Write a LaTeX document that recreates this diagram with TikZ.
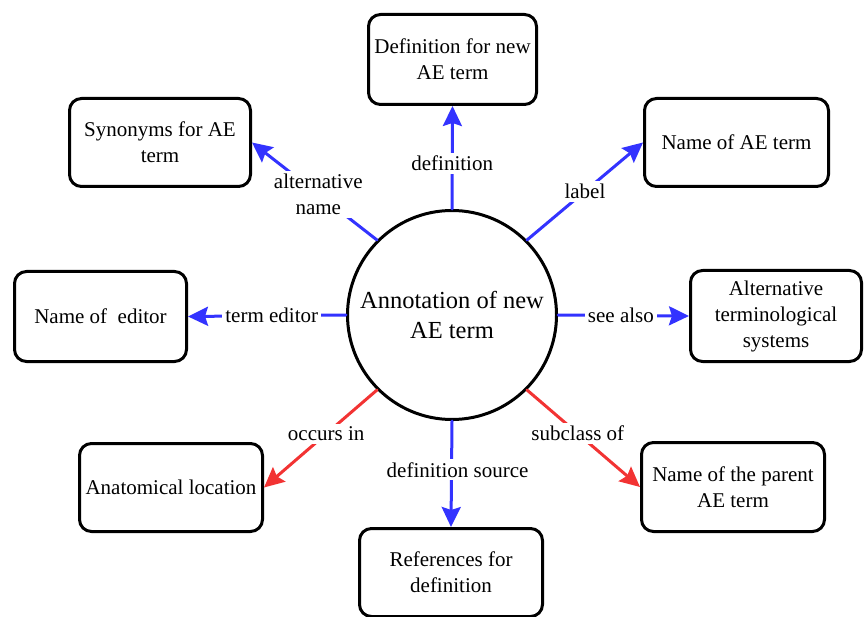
\documentclass[tikz,border=0pt]{standalone}
\usepackage{fontspec}
\setmainfont{Liberation Serif}
\usetikzlibrary{arrows.meta}
\definecolor{linkblue}{RGB}{51,51,255}
\definecolor{linkred}{RGB}{242,51,51}

\begin{document}
\begin{tikzpicture}[x=1pt,y=-1pt,>={Stealth[length=20pt,width=19pt,inset=3pt]},line cap=round,line join=round,
  termbox/.style={draw,line width=3pt,rounded corners=12pt,align=center,inner sep=2pt,font=\fontsize{21}{26}\selectfont},
  bluelink/.style={->,line width=3pt,linkblue},
  redlink/.style={->,line width=3pt,linkred},
  linklabel/.style={fill=white,inner sep=3pt,text=black,align=center,font=\fontsize{21}{26}\selectfont}]
\useasboundingbox (0,0) rectangle (864,617);
\node[draw,circle,line width=3pt,minimum size=209pt,inner sep=0pt,align=center,font=\fontsize{24.5}{30}\selectfont] (ann) at (452,315) {Annotation of new\\AE term};
\node[termbox,minimum width=168pt,minimum height=90pt] (defbox) at (452.5,59.5) {Definition for new\\AE term};
\node[termbox,minimum width=181pt,minimum height=88pt] (synbox) at (160,142.5) {Synonyms for AE\\term};
\node[termbox,minimum width=184pt,minimum height=88pt] (namebox) at (736.5,142.5) {Name of AE term};
\node[termbox,minimum width=172pt,minimum height=90pt] (edbox) at (100.5,316.5) {Name of\ \ editor};
\node[termbox,minimum width=171pt,minimum height=91pt] (altbox) at (776,316) {Alternative\\terminological\\systems};
\node[termbox,minimum width=183pt,minimum height=88pt] (anabox) at (171,487.5) {Anatomical location};
\node[termbox,minimum width=183pt,minimum height=89pt] (parbox) at (733,487) {Name of the parent\\AE term};
\node[termbox,minimum width=183pt,minimum height=88pt] (refbox) at (451,572.5) {References for\\definition};
\draw[bluelink] (ann.north) -- node[linklabel,pos=0.44] {definition} (defbox.south);
\draw[bluelink] (ann.45) -- node[linklabel,midway] {label} (namebox.west);
\draw[bluelink] (ann.135) -- node[linklabel,pos=0.47] {alternative\\name} (synbox.east);
\draw[bluelink] (ann.west) -- node[linklabel,pos=0.47] {term editor} (edbox.east);
\draw[bluelink] (ann.east) -- node[linklabel,pos=0.48] {see also} (altbox.west);
\draw[redlink] (ann.225) -- node[linklabel,pos=0.45] {occurs in} (anabox.east);
\draw[redlink] (ann.-45) -- node[linklabel,pos=0.45] {subclass of} (parbox.west);
\draw[bluelink] (ann.south) -- node[linklabel,pos=0.46,xshift=6pt] {definition source} (refbox.north);
\end{tikzpicture}
\end{document}
